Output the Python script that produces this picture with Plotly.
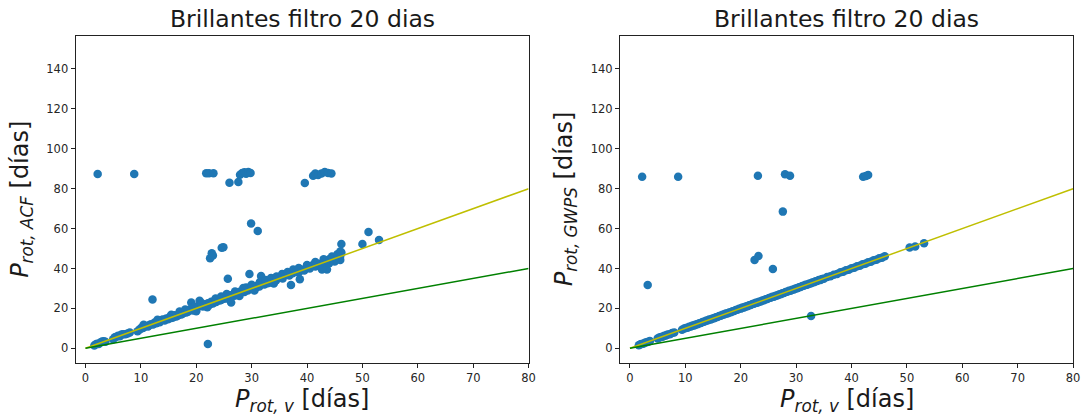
import plotly.graph_objects as go

# Rotation periods of the bright-star sample (20-day filter)
period_v = [
    1.6, 1.9, 2.1, 2.4, 2.7, 3.0, 3.3, 3.6, 5.0, 5.3,
    5.6, 5.9, 6.2, 6.5, 6.8, 7.2, 7.6, 8.0, 9.4, 9.8,
    10.1, 10.4, 10.7, 11.0, 11.3, 11.6, 11.9, 12.2, 12.5, 12.8,
    13.1, 13.4, 13.7, 14.0, 14.3, 14.6, 14.9, 15.2, 15.5, 15.8,
    16.1, 16.4, 16.7, 17.0, 17.3, 17.6, 17.9, 18.2, 18.5, 18.8,
    19.1, 19.4, 19.7, 20.0, 20.3, 20.6, 20.9, 21.2, 21.5, 21.8,
    22.1, 22.4, 22.7, 23.0, 23.3, 23.6, 23.9, 24.2, 24.5, 24.8,
    25.1, 25.4, 25.7, 26.0, 26.3, 26.6, 26.9, 27.2, 27.5, 27.8,
    28.1, 28.4, 28.7, 29.0, 29.3, 29.6, 29.9, 30.2, 30.5, 30.8,
    31.1, 31.4, 31.7, 32.0, 32.3, 32.6, 32.9, 33.2, 33.5, 33.8,
    34.1, 34.4, 34.7, 35.0, 35.6, 36.2, 36.8, 37.4, 38.0, 38.5,
    39.0, 39.5, 40.0, 40.5, 41.0, 41.5, 42.0, 42.5, 43.0, 43.5,
    44.0, 44.5, 45.0, 45.5, 46.0,
]

period_acf = [
    1.4, 2.0, 2.3, 2.2, 2.9, 3.4, 3.5, 3.3, 4.6, 5.5,
    5.8, 6.3, 6.0, 6.9, 7.0, 7.1, 7.4, 7.9, 8.6, 9.5,
    10.3, 10.2, 10.9, 11.2, 11.0, 11.8, 12.1, 12.0, 12.9, 12.6,
    13.5, 13.1, 14.2, 14.5, 14.0, 14.9, 14.6, 15.7, 15.2, 15.5,
    16.6, 16.0, 16.5, 17.6, 17.0, 17.4, 18.5, 18.0, 18.3, 19.5,
    23.0, 19.0, 20.4, 19.6, 20.8, 23.8, 21.3, 21.0, 22.0, 21.4,
    22.6, 21.9, 23.3, 22.5, 23.8, 23.2, 24.5, 24.0, 24.2, 25.3,
    24.8, 26.0, 25.2, 26.6, 23.0, 26.9, 26.3, 27.6, 27.1, 28.4,
    28.0, 28.9, 28.2, 30.5, 29.0, 30.0, 30.6, 29.8, 31.0, 30.4,
    31.6, 31.0, 36.2, 32.5, 32.0, 33.1, 32.6, 33.8, 33.0, 34.3,
    34.6, 34.0, 35.2, 35.6, 35.0, 36.9, 36.5, 37.6, 38.6, 38.0,
    39.5, 39.0, 40.3, 40.0, 41.6, 41.0, 42.3, 42.0, 43.5, 43.0,
    44.6, 44.0, 45.5, 45.0, 46.3,
]

period_gwps = [
    1.5, 2.0, 2.2, 2.3, 2.8, 3.1, 3.3, 3.7, 4.9, 5.4,
    5.7, 5.8, 6.3, 6.4, 6.9, 7.1, 7.7, 7.9, 9.3, 9.9,
    10.2, 10.3, 10.8, 10.9, 11.4, 11.5, 12.0, 12.1, 12.6, 12.7,
    13.2, 13.3, 13.8, 13.9, 14.4, 14.5, 15.0, 15.1, 15.6, 15.7,
    16.2, 16.3, 16.8, 16.9, 17.4, 17.5, 18.0, 18.1, 18.6, 18.7,
    19.2, 19.3, 19.8, 19.9, 20.4, 20.5, 21.0, 21.1, 21.6, 21.7,
    22.2, 22.3, 22.8, 22.9, 23.4, 23.5, 24.0, 24.1, 24.6, 24.7,
    25.2, 25.3, 25.8, 25.9, 26.4, 26.5, 27.0, 27.1, 27.6, 27.7,
    28.2, 28.3, 28.8, 28.9, 29.4, 29.5, 30.0, 30.1, 30.6, 30.7,
    31.2, 31.3, 31.8, 31.9, 32.4, 32.5, 33.0, 33.1, 33.6, 33.7,
    34.2, 34.3, 34.8, 34.9, 35.7, 36.1, 36.9, 37.3, 38.1, 38.4,
    39.1, 39.4, 40.1, 40.4, 41.1, 41.4, 42.1, 42.4, 43.1, 43.4,
    44.1, 44.4, 45.1, 45.4, 46.1,
]

# Stars whose ACF period departs from the visual one
acf_extra_v = [
    2.2, 8.8, 21.8, 22.3, 23.1, 26.0, 27.6, 27.9, 28.3, 28.7,
    29.0, 29.4, 29.8, 39.6, 41.1, 41.5, 42.0, 42.6, 43.2, 43.8,
    44.4, 29.9, 31.1, 24.6, 24.9, 22.8, 22.5, 23.0, 25.7, 12.1,
    22.1, 29.6, 46.2, 46.2, 46.0, 51.1, 50.0, 53.0, 43.6, 42.7,
    37.1, 38.7,
    10.5, 13.0, 15.5, 17.0, 18.0, 19.5, 21.0, 23.5, 24.5, 25.5,
    27.0, 28.5, 30.0, 31.5, 32.5, 33.5, 34.5, 35.5, 36.5, 37.5,
    38.5, 40.0, 41.5, 43.0, 44.5, 45.5, 46.0, 45.0, 44.0, 34.0,
    30.5, 27.8, 26.0, 22.0, 20.0,
]
acf_extra = [
    87.4, 87.4, 87.7, 87.7, 87.7, 83.0, 83.4, 87.0, 87.9, 88.2,
    87.5, 88.3, 87.9, 82.9, 86.5, 87.6, 86.8, 87.6, 88.3, 87.8,
    87.6, 62.6, 58.8, 50.4, 50.6, 47.6, 45.1, 46.5, 34.9, 24.5,
    2.2, 37.2, 52.3, 48.0, 44.3, 58.3, 52.3, 54.3, 39.5, 39.5,
    31.7, 34.6,
    11.8, 14.3, 16.8, 18.5, 19.4, 21.0, 22.6, 25.0, 26.0, 27.2,
    28.5, 30.2, 31.8, 33.2, 34.2, 35.2, 36.0, 37.2, 38.3, 39.5,
    40.2, 41.8, 43.2, 44.6, 46.0, 47.2, 48.5, 43.5, 42.6, 32.5,
    29.0, 26.2, 24.5, 20.6, 18.6,
]

# Stars whose GWPS period departs from the visual one
gwps_extra_v = [
    2.2, 8.7, 23.1, 28.0, 28.9, 42.1, 43.0, 42.6, 27.6, 22.5,
    23.2, 25.8, 3.2, 32.7, 50.5, 51.5, 53.1,
]
gwps_extra = [
    86.0, 86.0, 86.5, 87.2, 86.5, 86.0, 86.9, 86.4, 68.5, 44.3,
    46.3, 39.7, 31.7, 16.2, 50.5, 51.0, 52.7,
]

# Reference relations P = P_v and P = P_v / 2
line_v = [0, 80]
line_equal = [0, 80]
line_half = [0, 40]

BLUE = "#1f77b4"
YELLOW = "#bfbf00"
GREEN = "#008000"
FONT = "DejaVu Sans"

fig = go.Figure()

panels = [
    ("x", "y", period_v + acf_extra_v, period_acf + acf_extra),
    ("x2", "y2", period_v + gwps_extra_v, period_gwps + gwps_extra),
]
for xa, ya, xs, ys in panels:
    fig.add_trace(go.Scatter(
        x=xs, y=ys, mode="markers", xaxis=xa, yaxis=ya,
        marker=dict(color=BLUE, size=8.5, line=dict(width=0)),
        showlegend=False, hoverinfo="skip",
    ))
    fig.add_trace(go.Scatter(
        x=line_v, y=line_equal, mode="lines", xaxis=xa, yaxis=ya,
        line=dict(color=YELLOW, width=1.5), showlegend=False,
    ))
    fig.add_trace(go.Scatter(
        x=line_v, y=line_half, mode="lines", xaxis=xa, yaxis=ya,
        line=dict(color=GREEN, width=1.5), showlegend=False,
    ))

W, H = 1089, 417
left_dom = [76 / W, 532 / W]
right_dom = [624 / W, 1080 / W]
y_dom = [(H - 362.7) / H, (H - 36) / H]

axis_common = dict(
    showgrid=False, zeroline=False, showline=True, mirror=True,
    linecolor="#222222", linewidth=1, ticks="outside", ticklen=4,
    tickwidth=1, tickcolor="#222222",
    tickfont=dict(family=FONT, size=11.5, color="#262626"),
)
x_range = [-1.8, 80]
y_range = [-7.2, 156.5]
fig.update_layout(
    width=W, height=H,
    margin=dict(l=0, r=0, t=0, b=0),
    paper_bgcolor="white", plot_bgcolor="white",
    xaxis=dict(domain=left_dom, range=x_range, tickvals=list(range(0, 81, 10)),
               anchor="y", **axis_common),
    yaxis=dict(domain=y_dom, range=y_range, tickvals=list(range(0, 141, 20)),
               anchor="x", **axis_common),
    xaxis2=dict(domain=right_dom, range=x_range, tickvals=list(range(0, 81, 10)),
                anchor="y2", **axis_common),
    yaxis2=dict(domain=y_dom, range=y_range, tickvals=list(range(0, 141, 20)),
                anchor="x2", **axis_common),
)

title_text = "Brillantes filtro 20 dias"
xlabel = "<i>P</i><sub><i>rot, v</i></sub> [días]"
ylabels = ["<i>P</i><sub><i>rot, ACF</i></sub> [días]",
           "<i>P</i><sub><i>rot, GWPS</i></sub> [días]"]

annotations = []
for dom, ylab, ylab_x in [(left_dom, ylabels[0], 21), (right_dom, ylabels[1], 569)]:
    cx = (dom[0] + dom[1]) / 2
    annotations.append(dict(
        text=title_text, x=cx, y=(H - 19) / H, xref="paper", yref="paper",
        xanchor="center", yanchor="middle", showarrow=False,
        font=dict(family=FONT, size=23.5, color="#1a1a1a"),
    ))
    annotations.append(dict(
        text=xlabel, x=cx, y=(H - 400) / H, xref="paper", yref="paper",
        xanchor="center", yanchor="middle", showarrow=False,
        font=dict(family=FONT, size=24, color="#1a1a1a"),
    ))
    annotations.append(dict(
        text=ylab, x=ylab_x / W, y=(H - 199) / H, xref="paper", yref="paper",
        xanchor="center", yanchor="middle", showarrow=False, textangle=-90,
        font=dict(family=FONT, size=24, color="#1a1a1a"),
    ))
fig.update_layout(annotations=annotations)

fig.write_html("out.html")
